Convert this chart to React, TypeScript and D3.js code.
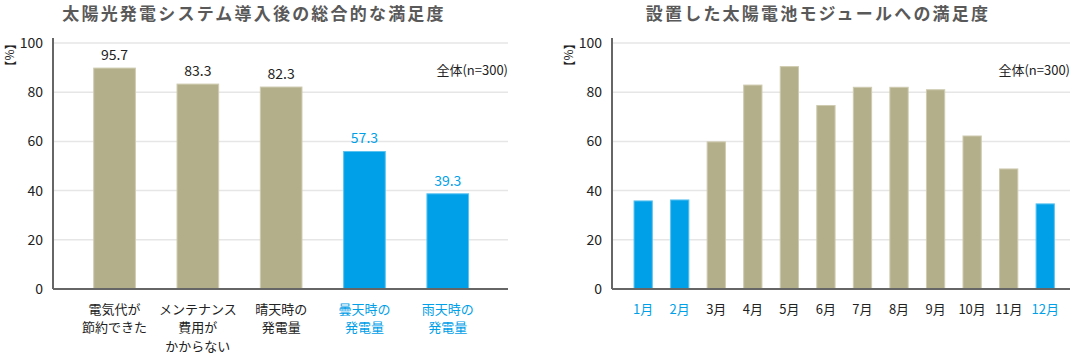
import React from "react";
import * as d3 from "d3";

// Left chart data
const leftTitle = "太陽光発電システム導入後の総合的な満足度";
const leftCategories = [
  ["電気代が", "節約できた"],
  ["メンテナンス", "費用が", "かからない"],
  ["晴天時の", "発電量"],
  ["曇天時の", "発電量"],
  ["雨天時の", "発電量"],
];
const leftBarValues = [89.8, 83.3, 82.1, 55.9, 38.7];
const leftLabels = ["95.7", "83.3", "82.3", "57.3", "39.3"];
const leftHighlight = [false, false, false, true, true];

// Right chart data
const rightTitle = "設置した太陽電池モジュールへの満足度";
const rightCategories = ["1月", "2月", "3月", "4月", "5月", "6月", "7月", "8月", "9月", "10月", "11月", "12月"];
const rightValues = [35.8, 36.2, 59.8, 82.9, 90.4, 74.6, 82.0, 82.0, 81.0, 62.2, 48.8, 34.6];
const rightHighlight = [true, true, false, false, false, false, false, false, false, false, false, true];

const yTicks = [0, 20, 40, 60, 80, 100];
const sampleNote = "全体(n=300)";
const unitLabel = "【%】";

const KHAKI = "#b3af8a";
const KHAKI_EDGE = "#cfcbb0";
const BLUE = "#00a0e8";
const BLUE_EDGE = "#5cc3f0";
const FONT = "'Noto Sans CJK JP', 'Noto Sans', sans-serif";

function Panel(props: {
  title: string;
  titleX: number;
  axisX: number;
  gridEnd: number;
  bandRange: [number, number];
  categories: string[];
  values: number[];
  highlight: boolean[];
  catLines?: string[][];
  labels?: string[];
}) {
  const { title, titleX, axisX, gridEnd, bandRange, categories, values, highlight, catLines, labels } = props;
  const y = d3.scaleLinear().domain([0, 100]).range([289, 43]);
  const x = d3.scaleBand<string>().domain(categories).range(bandRange).paddingInner(0.5).paddingOuter(0.25);
  const bw = x.bandwidth();
  return (
    <g>
      <text x={titleX} y={20} textAnchor="middle" fontSize={17} letterSpacing={2.2} fontWeight="bold" fill="#595959">
        {title}
      </text>
      {yTicks.filter((t) => t > 0).map((t) => (
        <line key={t} x1={axisX} x2={gridEnd} y1={y(t)} y2={y(t)} stroke="#e6e6e6" strokeWidth={1.5} />
      ))}
      {yTicks.map((t) => (
        <text key={"l" + t} x={axisX - 10} y={y(t)} dy="0.35em" textAnchor="end" fontSize={14} fill="#222">
          {t}
        </text>
      ))}
      <text
        transform={`translate(${axisX - 44},${y(100) + 12}) rotate(90)`}
        textAnchor="middle"
        dy="0.35em"
        fontSize={12}
        fill="#222"
      >
        {unitLabel}
      </text>
      <text x={gridEnd} y={70} dy="0.35em" textAnchor="end" fontSize={13} fill="#222">
        {sampleNote}
      </text>
      {categories.map((c, i) => (
        <rect
          key={"b" + c}
          x={x(c)!}
          y={y(values[i])}
          width={bw}
          height={y(0) - y(values[i])}
          fill={highlight[i] ? BLUE : KHAKI}
          stroke={highlight[i] ? BLUE_EDGE : KHAKI_EDGE}
          strokeWidth={1}
        />
      ))}
      {labels &&
        categories.map((c, i) => (
          <text
            key={"v" + c}
            x={x(c)! + bw / 2}
            y={y(values[i]) - 8}
            textAnchor="middle"
            fontSize={14}
            fill={highlight[i] ? BLUE : "#222"}
          >
            {labels[i]}
          </text>
        ))}
      <line x1={axisX} x2={axisX} y1={38} y2={289} stroke="#666" strokeWidth={2} />
      <line x1={axisX} x2={gridEnd} y1={289} y2={289} stroke="#666" strokeWidth={2} />
      {categories.map((c, i) => {
        const lines = catLines ? catLines[i] : [c];
        return (
          <text key={"c" + c} textAnchor="middle" fontSize={13} fill={highlight[i] ? BLUE : "#222"}>
            {lines.map((ln, j) => (
              <tspan key={j} x={x(c)! + bw / 2} y={309 + j * 18.5} dy="0.35em">
                {ln}
              </tspan>
            ))}
          </text>
        );
      })}
    </g>
  );
}

export default function App() {
  return (
    <svg width={1091} height={355} style={{ position: "absolute", left: 0, top: 0, fontFamily: FONT }}>
      <rect width={1091} height={355} fill="#fff" />
      <Panel
        title={leftTitle}
        titleX={254}
        axisX={53}
        gridEnd={508}
        bandRange={[72.9, 489.4]}
        categories={leftCategories.map((l) => l.join(""))}
        catLines={leftCategories}
        values={leftBarValues}
        labels={leftLabels}
        highlight={leftHighlight}
      />
      <Panel
        title={rightTitle}
        titleX={818}
        axisX={612}
        gridEnd={1070}
        bandRange={[624.9, 1063.5]}
        categories={rightCategories}
        values={rightValues}
        highlight={rightHighlight}
      />
    </svg>
  );
}
